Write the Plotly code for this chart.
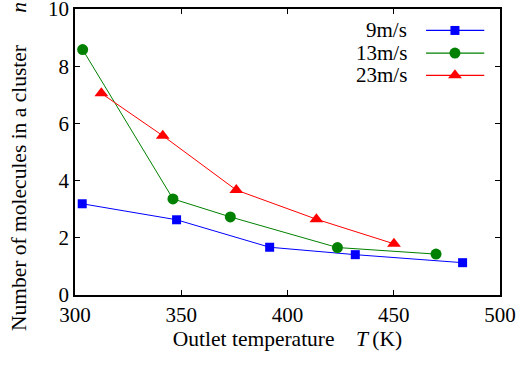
import plotly.graph_objects as go

T_9 = [303.4, 347.8, 391.6, 431.9, 482.4]
n_9 = [3.19, 2.63, 1.67, 1.41, 1.13]
T_13 = [303.6, 346.1, 373.1, 423.5, 469.9]
n_13 = [8.58, 3.36, 2.73, 1.66, 1.43]
T_23 = [312.4, 341.3, 375.9, 413.6, 450.1]
n_23 = [7.05, 5.57, 3.67, 2.65, 1.79]
series_names = ["9m/s", "13m/s", "23m/s"]
colors = ["#0000ff", "#008000", "#ff0000"]
symbols = ["square", "circle", "triangle-up"]
msizes = [9, 11, 12]
x_ticks = [300, 350, 400, 450, 500]
y_ticks = [0, 2, 4, 6, 8, 10]

FONT = "Liberation Serif, Times New Roman, serif"
fig = go.Figure()
data = [(T_9, n_9), (T_13, n_13), (T_23, n_23)]
for (xs, ys), name, c, s, ms in zip(data, series_names, colors, symbols, msizes):
    fig.add_trace(go.Scatter(x=xs, y=ys, mode="lines+markers", name=name,
                             line=dict(color=c, width=1),
                             marker=dict(color=c, symbol=s, size=ms),
                             showlegend=False, cliponaxis=False))

# custom legend (text left, sample right) on overlay axes
leg_y = [0.925, 0.846, 0.768]
for name, c, s, ms, ly in zip(series_names, colors, symbols, msizes, leg_y):
    fig.add_trace(go.Scatter(x=[0.826, 0.963], y=[ly, ly], mode="lines",
                             line=dict(color=c, width=1.2), xaxis="x2", yaxis="y2",
                             showlegend=False, hoverinfo="skip"))
    fig.add_trace(go.Scatter(x=[0.894], y=[ly], mode="markers",
                             marker=dict(color=c, symbol=s, size=ms), xaxis="x2", yaxis="y2",
                             showlegend=False, hoverinfo="skip"))
    fig.add_annotation(x=0.786, y=ly, xref="x2", yref="y2", text=name, showarrow=False,
                       xanchor="right", yanchor="middle", font=dict(family=FONT, size=21, color="black"))

axis_common = dict(showline=True, linecolor="black", linewidth=1.5, mirror="ticks",
                   ticks="inside", ticklen=5, tickwidth=1, tickcolor="black",
                   showgrid=False, zeroline=False, automargin=False,
                   ticklabeloverflow="allow",
                   tickfont=dict(family=FONT, size=21, color="black"))
fig.update_layout(
    width=520, height=370,
    margin=dict(l=75, r=20, t=9, b=75),
    paper_bgcolor="white", plot_bgcolor="white",
    xaxis=dict(range=[300, 500], tickvals=x_ticks, **axis_common,
               title=dict(text="Outlet temperature\u00a0\u00a0\u00a0\u00a0<i>T</i>\u2009(K)",
                          font=dict(family=FONT, size=21.5, color="black"), standoff=0)),
    yaxis=dict(range=[0, 10], tickvals=y_ticks, **axis_common),
    xaxis2=dict(range=[0, 1], overlaying="x", visible=False),
    yaxis2=dict(range=[0, 1], overlaying="y", visible=False),
)
fig.add_annotation(x=-0.13, y=-0.132, xref="paper", yref="paper",
                   text="Number of molecules in a cluster\u00a0\u00a0\u00a0\u00a0\u00a0\u00a0<i>n</i>",
                   textangle=-90, showarrow=False, xanchor="center", yanchor="bottom",
                   font=dict(family=FONT, size=21.5, color="black"))
fig.write_html("out.html", config={"displayModeBar": False},
               post_script="document.body.style.margin='0';")
